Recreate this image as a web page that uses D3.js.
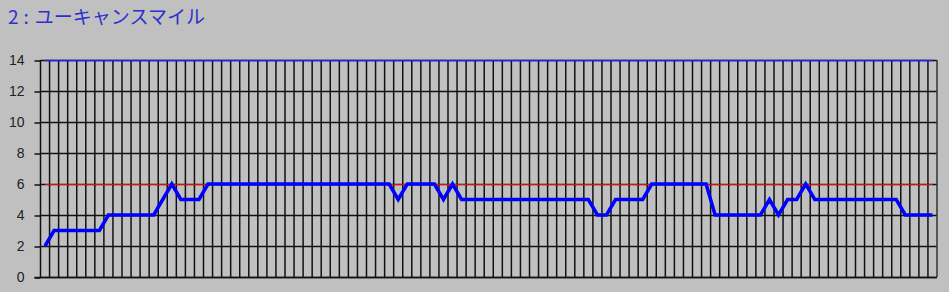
<!DOCTYPE html>
<html lang="ja">
<head>
  <meta charset="UTF-8">
  <title>2 : ユーキャンスマイル</title>
  <script src="https://d3js.org/d3.v7.min.js"></script>
  <style>
    body {
      margin: 0;
      overflow: hidden;
      background-color: #c0c0c0;
    }
    svg {
      display: block;
    }
    .title {
      font-family: "Noto Sans CJK JP", "Noto Sans", sans-serif;
      font-size: 19px;
      fill: #2f2fd0;
    }
    .y-axis text {
      font-family: "Liberation Sans", Arial, sans-serif;
      font-size: 14px;
      fill: #222;
    }
  </style>
</head>
<body>
  <svg id="chart"></svg>

  <script>
    const width = 949;
    const height = 292;

    // rank per race (99 entries)
    const values = [
      2, 3, 3, 3, 3, 3, 3, 4, 4, 4,
      4, 4, 4, 5, 6, 5, 5, 5, 6, 6,
      6, 6, 6, 6, 6, 6, 6, 6, 6, 6,
      6, 6, 6, 6, 6, 6, 6, 6, 6, 5,
      6, 6, 6, 6, 5, 6, 5, 5, 5, 5,
      5, 5, 5, 5, 5, 5, 5, 5, 5, 5,
      5, 4, 4, 5, 5, 5, 5, 6, 6, 6,
      6, 6, 6, 6, 4, 4, 4, 4, 4, 4,
      5, 4, 5, 5, 6, 5, 5, 5, 5, 5,
      5, 5, 5, 5, 5, 4, 4, 4, 4
    ];
    const yTicks = [0, 2, 4, 6, 8, 10, 12, 14];
    const thresholdValue = 6;  // red reference line
    const upperValue = 14;     // blue line on top edge

    const plot = { left: 40.5, right: 937, top: 60, bottom: 277 };

    const svg = d3.select("#chart")
      .attr("width", width)
      .attr("height", height);

    const x = d3.scaleBand()
      .domain(d3.range(values.length))
      .range([plot.left, plot.right])
      .paddingInner(0)
      .paddingOuter(0);

    const cx = i => x(i) + x.bandwidth() / 2;

    const y = d3.scaleLinear()
      .domain([0, 14])
      .range([plot.bottom, plot.top]);

    // title: "2 : ユーキャンスマイル" with wider gaps round the colon
    const title = svg.append("text")
      .attr("class", "title")
      .attr("x", 8)
      .attr("y", 24);
    title.append("tspan").text("2");
    title.append("tspan").attr("dx", 5).text(":");
    title.append("tspan").attr("dx", 6).text("ユーキャンスマイル");

    // horizontal grid lines
    svg.append("g")
      .selectAll("line")
      .data(yTicks)
      .enter().append("line")
      .attr("x1", plot.left)
      .attr("x2", plot.right)
      .attr("y1", d => Math.round(y(d)) + 0.5)
      .attr("y2", d => Math.round(y(d)) + 0.5)
      .attr("stroke", "#111")
      .attr("stroke-width", 1.5);

    // vertical grid lines (band boundaries)
    const bounds = x.domain().map(i => x(i)).concat([plot.right]);
    svg.append("g")
      .selectAll("line")
      .data(bounds)
      .enter().append("line")
      .attr("x1", d => d)
      .attr("x2", d => d)
      .attr("y1", plot.top)
      .attr("y2", plot.bottom)
      .attr("stroke", (d, i) => i === bounds.length - 1 ? "#333" : "#111")
      .attr("stroke-width", 1.5);

    // y axis
    const yAxis = d3.axisLeft(y)
      .tickValues(yTicks)
      .tickSize(6)
      .tickPadding(10);

    svg.append("g")
      .attr("class", "y-axis")
      .attr("transform", `translate(${plot.left},0.5)`)
      .call(yAxis)
      .call(g => g.select(".domain").remove())
      .call(g => g.selectAll(".tick line").attr("stroke", "#111").attr("stroke-width", 1.5));

    // bottom axis line
    svg.append("line")
      .attr("x1", plot.left - 6)
      .attr("x2", plot.right)
      .attr("y1", y(0) + 0.5)
      .attr("y2", y(0) + 0.5)
      .attr("stroke", "#111")
      .attr("stroke-width", 1.5);

    const first = cx(0);
    const last = cx(values.length - 1);

    // top blue line
    svg.append("line")
      .attr("x1", first)
      .attr("x2", last)
      .attr("y1", y(upperValue) + 0.5)
      .attr("y2", y(upperValue) + 0.5)
      .attr("stroke", "#2020ff")
      .attr("stroke-width", 1.5);

    // red reference line
    svg.append("line")
      .attr("x1", first)
      .attr("x2", last)
      .attr("y1", Math.round(y(thresholdValue)) + 0.5)
      .attr("y2", Math.round(y(thresholdValue)) + 0.5)
      .attr("stroke", "#ff0000")
      .attr("stroke-width", 1);

    // main series
    const line = d3.line()
      .x((d, i) => cx(i))
      .y(d => y(d));

    svg.append("path")
      .datum(values)
      .attr("fill", "none")
      .attr("stroke", "#0000ff")
      .attr("stroke-width", 3.5)
      .attr("stroke-linejoin", "miter")
      .attr("d", line);
  </script>
</body>
</html>
